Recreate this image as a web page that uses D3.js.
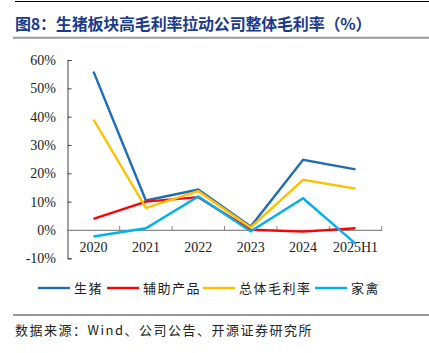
<!DOCTYPE html>
<html><head><meta charset="utf-8">
<script src="https://cdn.jsdelivr.net/npm/d3@7/dist/d3.min.js"></script>
<style>body{margin:0;background:#fff;}svg{display:block;}</style>
</head><body>
<svg id="c" width="429" height="353"></svg>
<script>
const categories = ["2020","2021","2022","2023","2024","2025H1"];
const hog = [55.9, 10.4, 14.3, 1.2, 24.8, 21.4];
const aux = [3.9, 10.0, 11.6, 0.1, -0.6, 0.6];
const total = [39.0, 7.8, 13.7, 0.9, 17.7, 14.6];
const poultry = [-2.3, 0.6, 11.8, -0.5, 11.2, -4.8];
const seriesNames = ["生猪","辅助产品","总体毛利率","家禽"];
const seriesColors = ["#1F6DB5","#FF0000","#FFC000","#00B0F0"];
const yTicks = [-10,0,10,20,30,40,50,60];

const svg = d3.select("#c");
const serif = "'Liberation Serif','Times New Roman',serif";
const cjk = "'Noto Sans CJK SC','Noto Sans CJK JP',sans-serif";

// header
svg.append("line").attr("x1",15).attr("x2",429).attr("y1",1.5).attr("y2",1.5).attr("stroke","#000").attr("stroke-width",1.2);
svg.append("text").attr("x",15).attr("y",30).attr("fill","#1B3A8C").attr("font-family",cjk).attr("font-weight","bold").attr("font-size",16).attr("letter-spacing",-0.2).text("图8：生猪板块高毛利率拉动公司整体毛利率（%）");
svg.append("line").attr("x1",13).attr("x2",429).attr("y1",37.7).attr("y2",37.7).attr("stroke","#999").attr("stroke-width",2);

const x = d3.scaleBand().domain(categories).range([67.3,381.7]);
const y = d3.scaleLinear().domain([-10,60]).range([258.3,60]);

// y axis
const ya = svg.append("g").attr("transform","translate(67.5,0)")
  .call(d3.axisRight(y).tickValues(yTicks).tickSize(4).tickFormat(""));
ya.select(".domain").attr("stroke","#444");
ya.selectAll(".tick line").attr("stroke","#444");
svg.append("g").selectAll("text").data(yTicks).join("text")
  .attr("x",56).attr("y",d=>y(d)).attr("dy","0.35em").attr("text-anchor","end")
  .attr("font-family",serif).attr("font-size",14).attr("fill","#222").text(d=>d+"%");

// x axis at zero
const xa = svg.append("g").attr("transform",`translate(0,${y(0)})`)
  .call(d3.axisTop(x).tickSize(0).tickFormat(""));
xa.select(".domain").attr("stroke","#888").attr("stroke-width",1.2);
xa.selectAll(".bt").data(categories.map(c=>x(c)+x.bandwidth())).join("line")
  .attr("x1",d=>d).attr("x2",d=>d).attr("y1",0).attr("y2",-4).attr("stroke","#888");
svg.append("g").selectAll("text").data(categories).join("text")
  .attr("x",d=>x(d)+x.bandwidth()/2).attr("y",247).attr("dy","0.35em").attr("text-anchor","middle")
  .attr("font-family",serif).attr("font-size",14).attr("fill","#222").text(d=>d);

// lines
const all = [hog, aux, total, poultry];
const line = d3.line().x((d,i)=>x(categories[i])+x.bandwidth()/2).y(d=>y(d));
all.forEach((s,k)=>{
  svg.append("path").attr("d",line(s)).attr("fill","none").attr("stroke",seriesColors[k]).attr("stroke-width",2.4);
});

// legend
const legX = [38,107,203,315];
const lg = svg.append("g");
seriesNames.forEach((n,k)=>{
  lg.append("line").attr("x1",legX[k]).attr("x2",legX[k]+32).attr("y1",288).attr("y2",288).attr("stroke",seriesColors[k]).attr("stroke-width",2.4);
  lg.append("text").attr("x",legX[k]+36).attr("y",288).attr("dy","0.35em").attr("font-family",cjk).attr("font-size",13).attr("letter-spacing",1.5).attr("fill","#222").text(n);
});

// footer
svg.append("line").attr("x1",13).attr("x2",429).attr("y1",315).attr("y2",315).attr("stroke","#333").attr("stroke-width",1);
svg.append("text").attr("x",15).attr("y",330).attr("dy","0.35em").attr("font-family",cjk).attr("font-size",13).attr("letter-spacing",1.5).attr("fill","#222").text("数据来源：Wind、公司公告、开源证券研究所");
</script>
</body></html>
